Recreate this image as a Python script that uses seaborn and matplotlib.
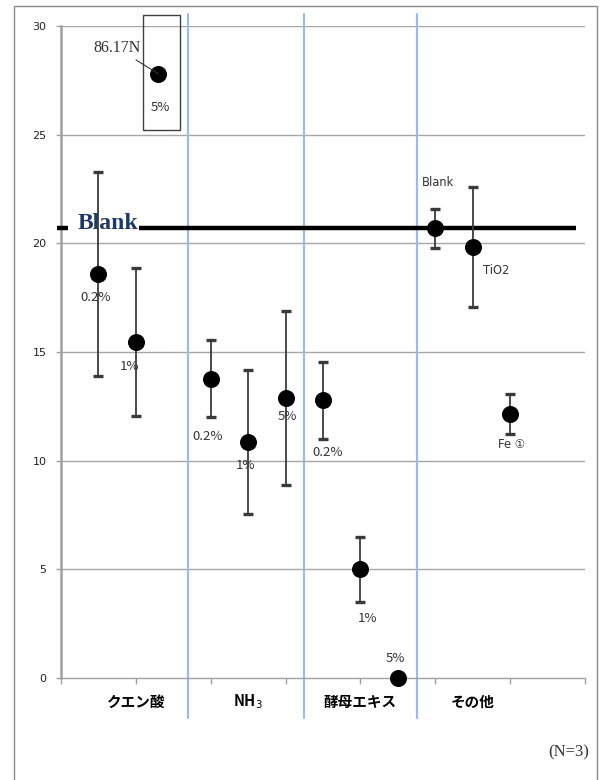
import matplotlib
matplotlib.use("Agg")
import matplotlib.pyplot as plt
from matplotlib.patches import Rectangle
import seaborn as sns
import pandas as pd
import numpy as np

# ---------------- data ----------------
groups = ["クエン酸", "NH$_3$", "酵母エキス", "その他"]
point_labels = ["0.2%", "1%", "5%", "0.2%", "1%", "5%", "0.2%", "1%", "5%", "Blank", "TiO2", "Fe ①"]
group_idx = [0, 0, 0, 1, 1, 1, 2, 2, 2, 3, 3, 3]
slot_idx = [0, 1, 2, 0, 1, 2, 0, 1, 2, 0, 1, 2]
means = [18.6, 15.45, 27.8, 13.78, 10.86, 12.9, 12.78, 5.0, 0.0, 20.7, 19.83, 12.15]
errs = [4.7, 3.4, 0.0, 1.75, 3.3, 4.0, 1.78, 1.5, 0.0, 0.9, 2.77, 0.9]
blank_value = 20.7
outlier_note = "86.17N"
n_note = "(N=3)"
yticks = [0, 5, 10, 15, 20, 25, 30]

# ---------------- layout / style ----------------
x_shift = [0, 0, -0.4, 0, 0, 0, 0, 0, 0, 0, 0, 0]
label_offsets = [(-3, -24), (-6, -24), (2, -34), (-3, -58), (-3, -24), (2, -19),
                 (5, -52), (7, -49), (-2, 20), (3, 46), (23, -23), (1, -31)]

df = pd.DataFrame({
    "x": [3 * g + k + 1 + s for g, k, s in zip(group_idx, slot_idx, x_shift)],
    "mean": means,
    "err": errs,
    "label": point_labels,
})

sns.set_theme(style="white")
plt.rcParams["font.family"] = ["Noto Sans CJK JP", "DejaVu Sans"]

W, H = 603, 780
fig = plt.figure(figsize=(W / 100, H / 100), dpi=100)
ax = fig.add_axes([61 / W, 1 - 678 / H, (585 - 61) / W, (678 - 26) / H])
ax.set_xlim(0, 14)
ax.set_ylim(0, 30)

# grid
for yv in yticks[1:]:
    ax.axhline(yv, color="#a6a6a6", lw=1.0, zorder=0)

# spines
for s in ["top", "right"]:
    ax.spines[s].set_visible(False)
ax.spines["left"].set_color("#a0a0a0")
ax.spines["left"].set_linewidth(1.8)
ax.spines["bottom"].set_color("#a0a0a0")
ax.spines["bottom"].set_linewidth(1.0)

ax.set_yticks(yticks)
ax.set_yticklabels([str(v) for v in yticks], fontsize=8, color="#222222",
                   family=["DejaVu Sans"])
ax.set_xticks(np.arange(0, 15, 2))
ax.set_xticklabels([])
ax.tick_params(axis="y", length=3.5, width=1, color="#a0a0a0", pad=7, left=True)
ax.tick_params(axis="x", length=4, width=1, color="#a0a0a0", bottom=True)

# blue separators
for xs in [3.39, 6.48, 9.52]:
    ax.plot([xs, xs], [-1.85, 30.55], color="#9dbbe3", lw=1.6, clip_on=False, zorder=1)

# blank line (interrupted by its label)
ax.plot([-0.1, 0.2], [blank_value, blank_value], color="black", lw=3.2,
        solid_capstyle="butt", clip_on=False, zorder=3)
ax.plot([2.08, 13.76], [blank_value, blank_value], color="black", lw=3.2,
        solid_capstyle="butt", clip_on=False, zorder=3)
ax.text(0.45, blank_value - 0.05, "Blank", fontsize=17, fontweight="bold",
        family=["Liberation Serif"], color="#1f3864", ha="left", va="baseline",
        zorder=4)

# error bars
eb = df[df["err"] > 0]
ax.errorbar(eb["x"], eb["mean"], yerr=eb["err"], fmt="none", ecolor="#3a3a3a",
            elinewidth=1.3, capsize=3.4, capthick=2.4, zorder=5)
sns.scatterplot(data=df, x="x", y="mean", s=150, color="black", edgecolor="black",
                linewidth=0, ax=ax, zorder=6, clip_on=False, legend=False)
ax.set_xlabel("")
ax.set_ylabel("")

# point labels
for (_, r), (dx, dy) in zip(df.iterrows(), label_offsets):
    fam = ["Noto Sans CJK JP", "DejaVu Sans"]
    fs = 9.5
    if r["label"] in ("Blank", "TiO2", "Fe ①"):
        fam = ["DejaVu Sans", "Noto Sans CJK JP"]
        fs = 8.3
    ax.annotate(r["label"], (r["x"], r["mean"]), xytext=(dx, dy),
                textcoords="offset pixels", ha="center", va="center",
                fontsize=fs, color="#333333", family=fam, zorder=7)

# outlier box and note
out = df.iloc[2]
ax.add_patch(Rectangle((2.19, 25.2), 0.98, 5.3, facecolor="none", edgecolor="#404040",
                       lw=1.0, clip_on=False, zorder=4))
ax.annotate(outlier_note, (out["x"], out["mean"]), xytext=(1.49, 28.99),
            textcoords="data", ha="center", va="center", fontsize=11.5,
            family=["Liberation Serif"], color="#333333",
            arrowprops=dict(arrowstyle="-", color="#333333", lw=0.8,
                            shrinkA=1, shrinkB=0), zorder=7, annotation_clip=False)

# category labels
for i, g in enumerate(groups):
    ax.text(3 * i + 2, -1.1, g, ha="center", va="center", fontsize=10.5,
            fontweight="bold", color="black")

# N note
fig.text(569 / W, 1 - 752 / H, n_note, ha="center", va="center", fontsize=12,
         family=["Liberation Serif"], color="#333333")

# figure border
fig.add_artist(Rectangle((14 / W, -0.01), (597 - 14) / W, 1 - 6 / H + 0.01,
                         transform=fig.transFigure, facecolor="none",
                         edgecolor="#8a8a8a", lw=1.0))

fig.savefig("out.png", dpi=100)
